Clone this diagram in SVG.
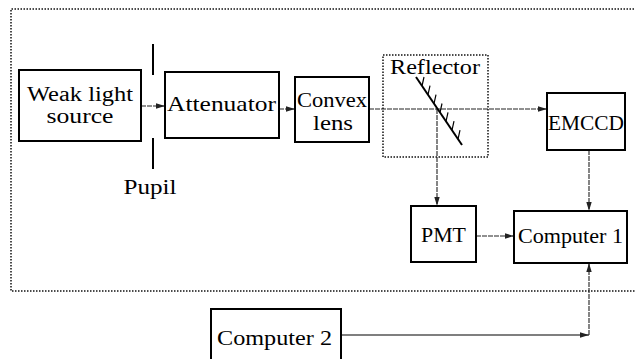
<svg xmlns="http://www.w3.org/2000/svg" width="635" height="359" viewBox="0 0 635 359">
<defs>
<style>
.box{fill:#fff;stroke:#000;stroke-width:2}
.dot{fill:none;stroke:#111;stroke-width:1.5;stroke-dasharray:1.5 1.5}
.t{font-family:"Liberation Serif","Times New Roman",serif;font-size:22px;fill:#000;text-anchor:middle}
.t2{font-size:20px}
.c{fill:none;stroke:#222;stroke-width:1.1;stroke-dasharray:5 1}
.s{fill:none;stroke:#555;stroke-width:1.3}
.m{stroke:#000;stroke-width:2;fill:none}
.h{stroke:#000;stroke-width:1.2;fill:none}
</style>
<marker id="ah" viewBox="0 0 10 6" refX="10" refY="3" markerWidth="9" markerHeight="5.4" markerUnits="userSpaceOnUse" orient="auto">
<path d="M0,0 L10,3 L0,6 Z" fill="#222"/>
</marker>
</defs>
<rect width="635" height="359" fill="#fff"/>
<path class="dot" d="M634,9 H11 V291 H635"/>
<g id="connectors">
<line class="c" x1="141" y1="106" x2="165" y2="106" marker-end="url(#ah)"/>
<line class="c" x1="279" y1="109" x2="295" y2="109" marker-end="url(#ah)"/>
<line class="c" x1="369" y1="109" x2="547" y2="109" marker-end="url(#ah)"/>
<line class="c" x1="437" y1="109" x2="437" y2="206" marker-end="url(#ah)"/>
<line class="c" x1="589" y1="150" x2="589" y2="211" marker-end="url(#ah)"/>
<line class="c" x1="476" y1="236" x2="514" y2="236" marker-end="url(#ah)"/>
<line class="s" x1="341" y1="335" x2="589" y2="335" marker-end="url(#ah)"/>
<line class="c" x1="589" y1="335" x2="589" y2="263" marker-end="url(#ah)"/>
</g>
<g id="pupil">
<line class="m" x1="153" y1="44" x2="153" y2="75"/>
<line class="m" x1="153" y1="138" x2="153" y2="169"/>
<text class="t" x="150" y="194" textLength="53" lengthAdjust="spacingAndGlyphs">Pupil</text>
</g>
<g id="weak-light-source">
<rect class="box" x="19" y="70" width="122" height="71"/>
<text class="t t2" x="80" y="101" textLength="106" lengthAdjust="spacingAndGlyphs">Weak light</text>
<text class="t t2" x="80" y="123" textLength="67" lengthAdjust="spacingAndGlyphs">source</text>
</g>
<g id="attenuator">
<rect class="box" x="165" y="72" width="114" height="66"/>
<text class="t" x="221.5" y="111" textLength="109" lengthAdjust="spacingAndGlyphs">Attenuator</text>
</g>
<g id="convex-lens">
<rect class="box" x="295" y="77" width="74" height="65"/>
<text class="t t2" x="332" y="107" textLength="70" lengthAdjust="spacingAndGlyphs">Convex</text>
<text class="t t2" x="333" y="130" textLength="40" lengthAdjust="spacingAndGlyphs">lens</text>
</g>
<g id="reflector">
<rect class="dot" x="383" y="55" width="105" height="102"/>
<text class="t" x="435" y="74" textLength="90" lengthAdjust="spacingAndGlyphs">Reflector</text>
<line class="m" x1="416" y1="77" x2="462" y2="145"/>
<path class="h" d="M422,86 l2,-9 M428,94.7 l2,-9 M434,103.6 l2,-9 M440,112.5 l2,-9 M446,121.3 l2,-9 M452,130.2 l2,-9 M458,139.1 l2,-9"/>
</g>
<g id="emccd">
<rect class="box" x="547" y="93" width="78" height="57"/>
<text class="t" x="586" y="130" textLength="76" lengthAdjust="spacingAndGlyphs">EMCCD</text>
</g>
<g id="pmt">
<rect class="box" x="411" y="206" width="65" height="56"/>
<text class="t" x="443.5" y="242" textLength="45" lengthAdjust="spacingAndGlyphs">PMT</text>
</g>
<g id="computer-1">
<rect class="box" x="514" y="211" width="113" height="52"/>
<text class="t" x="570.5" y="243" textLength="105" lengthAdjust="spacingAndGlyphs">Computer 1</text>
</g>
<g id="computer-2">
<rect class="box" x="211" y="309" width="130" height="60"/>
<text class="t" x="274.5" y="345" textLength="115" lengthAdjust="spacingAndGlyphs">Computer 2</text>
</g>
</svg>
